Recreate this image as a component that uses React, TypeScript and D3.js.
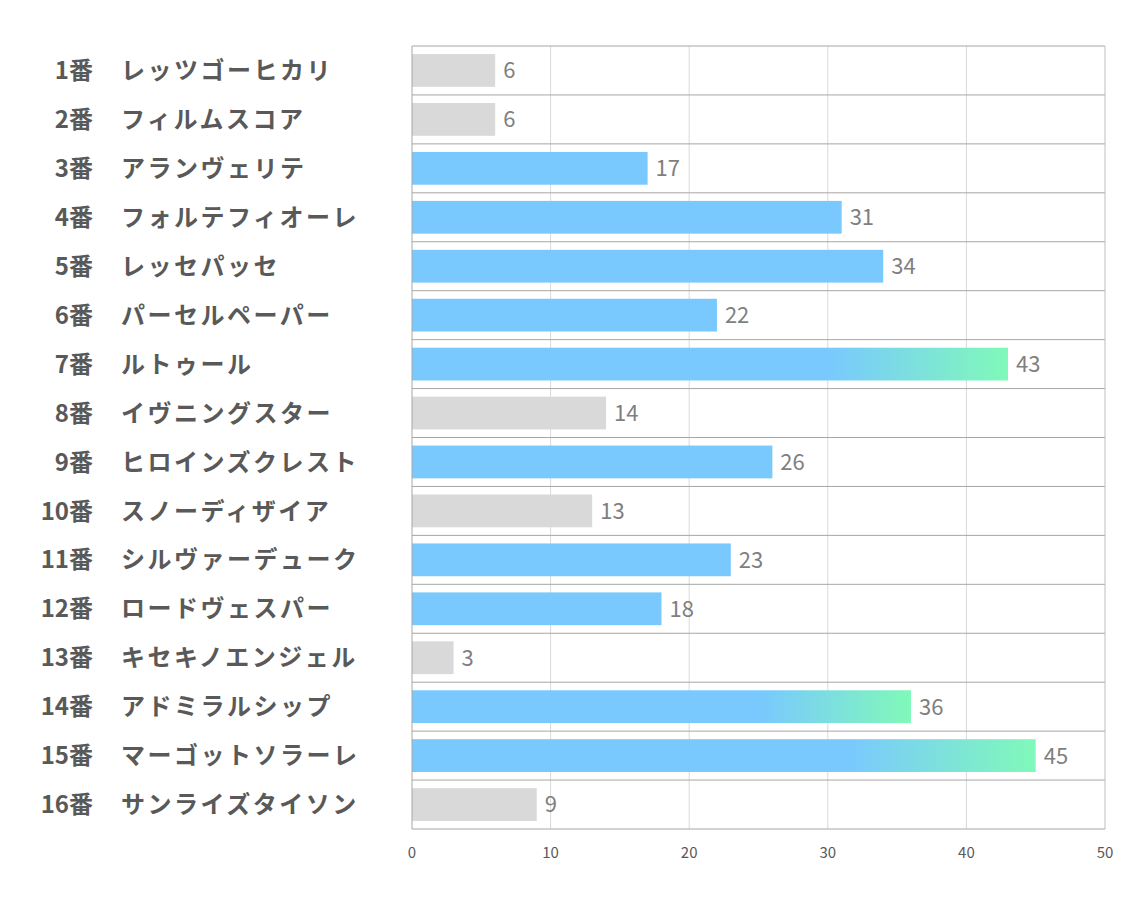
import React from "react";
import * as d3 from "d3";

const numbers = ["1番","2番","3番","4番","5番","6番","7番","8番","9番","10番","11番","12番","13番","14番","15番","16番"];
const names = ["レッツゴーヒカリ","フィルムスコア","アランヴェリテ","フォルテフィオーレ","レッセパッセ","パーセルペーパー","ルトゥール","イヴニングスター","ヒロインズクレスト","スノーディザイア","シルヴァーデューク","ロードヴェスパー","キセキノエンジェル","アドミラルシップ","マーゴットソラーレ","サンライズタイソン"];
const values = [6,6,17,31,34,22,43,14,26,13,23,18,3,36,45,9];
const groups = ["low","low","mid","mid","mid","mid","top","low","mid","low","mid","mid","low","top","top","low"];
const ticks = [0,10,20,30,40,50];

const W = 1134, H = 907;
const X0 = 412, X1 = 1105, Y0 = 46, Y1 = 829;

export default function App() {
  const x = d3.scaleLinear().domain([0, 50]).range([X0, X1]);
  const idx = d3.range(values.length);
  const y = d3.scaleBand<number>().domain(idx).range([Y0, Y1]).paddingInner(0).paddingOuter(0);
  const bw = y.bandwidth();
  const barH = bw * 0.67;
  const font = "'Noto Sans CJK JP', 'Noto Sans', sans-serif";
  return (
    <svg width={W} height={H} style={{ display: "block", position: "absolute", left: 0, top: 0, background: "#fff" }}>
      <defs>
        {idx.map(i => groups[i] === "top" ? (
          <linearGradient key={i} id={`g${i}`} x1="0" x2="1" y1="0" y2="0">
            <stop offset="0" stopColor="#79C9FE" />
            <stop offset="0.7" stopColor="#79C9FE" />
            <stop offset="1" stopColor="#80F9B9" />
          </linearGradient>
        ) : null)}
      </defs>
      {ticks.slice(1, -1).map(t => (
        <line key={t} x1={x(t)} x2={x(t)} y1={Y0} y2={Y1} stroke="#D9D9D9" strokeWidth={1} />
      ))}
      {idx.map(i => (
        <rect key={i} x={x(0)} y={(y(i) as number) + (bw - barH) / 2} width={x(values[i]) - x(0)} height={barH}
          fill={groups[i] === "low" ? "#D9D9D9" : groups[i] === "top" ? `url(#g${i})` : "#79C9FE"} />
      ))}
      {d3.range(values.length + 1).map(k => (
        <line key={k} x1={X0} x2={X1} y1={Y0 + k * bw} y2={Y0 + k * bw} stroke="#A6A6A6" strokeWidth={1} />
      ))}
      <line x1={X0} x2={X0} y1={Y0} y2={Y1} stroke="#A6A6A6" strokeWidth={1} />
      <line x1={X1} x2={X1} y1={Y0} y2={Y1} stroke="#BFBFBF" strokeWidth={1} />
      {idx.map(i => (
        <text key={i} x={x(values[i]) + 8} y={(y(i) as number) + bw / 2} dy="0.36em" fontSize={22}
          fontFamily={font} fill="#7F7F7F">{values[i]}</text>
      ))}
      {idx.map(i => (
        <g key={i} fontFamily={font} fontWeight="bold" fill="#595959" fontSize={24}>
          <text x={93} y={(y(i) as number) + bw / 2} dy="0.36em" textAnchor="end">{numbers[i]}</text>
          <text x={121} y={(y(i) as number) + bw / 2} dy="0.36em" letterSpacing={2.5}>{names[i]}</text>
        </g>
      ))}
      {ticks.map(t => (
        <text key={t} x={x(t)} y={853} dy="0.36em" textAnchor="middle" fontSize={15} fontFamily={font} fill="#595959">{t}</text>
      ))}
    </svg>
  );
}
